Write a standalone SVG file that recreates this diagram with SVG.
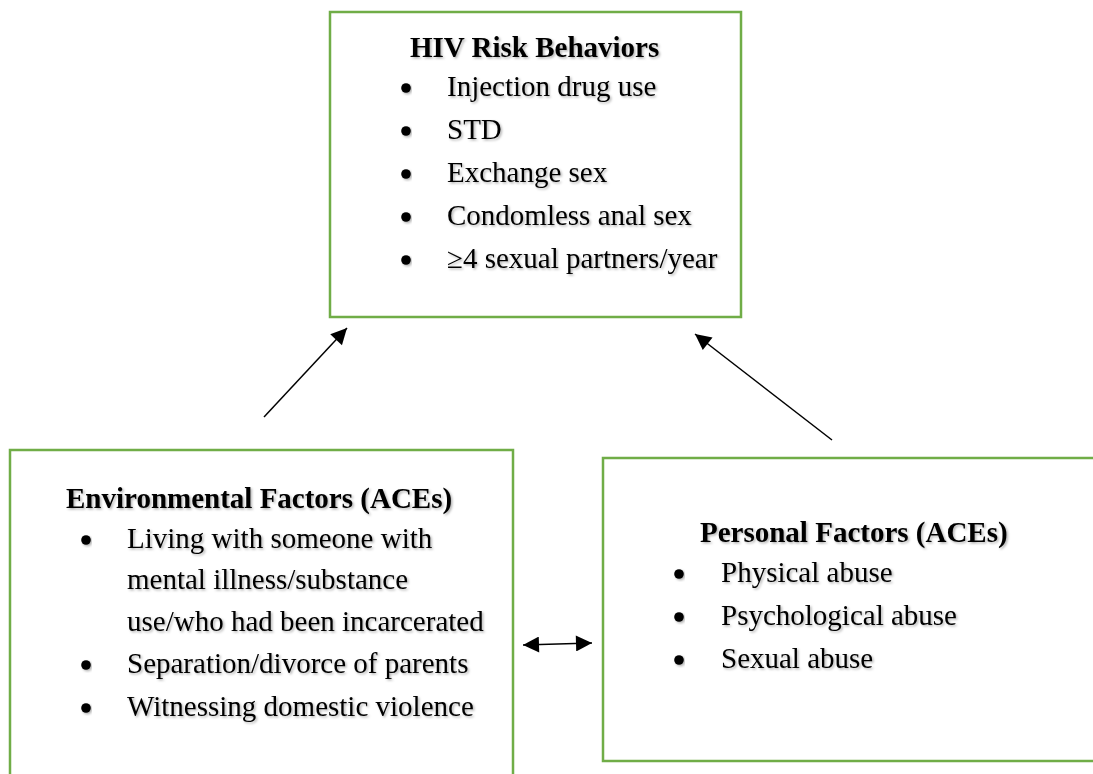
<svg xmlns="http://www.w3.org/2000/svg" width="1093" height="774" viewBox="0 0 1093 774">
<defs>
<style>
.box{fill:#fff;stroke:#70AD47;stroke-width:2.5}
.t{font-family:"Liberation Serif","Times New Roman",serif;font-size:29px;fill:#000;filter:url(#sh)}
.b{font-weight:bold}
.dot{fill:#000;filter:url(#sh)}
.conn{stroke:#000;stroke-width:1.5;fill:none}
</style>
<filter id="sh" x="-5%" y="-20%" width="110%" height="150%">
<feDropShadow dx="1.5" dy="1.5" stdDeviation="1" flood-color="#000" flood-opacity="0.3"/>
</filter>
<marker id="ah" viewBox="0 0 10 10" refX="10" refY="5" markerWidth="18" markerHeight="16" markerUnits="userSpaceOnUse" orient="auto-start-reverse">
<path d="M0,0 L10,5 L0,10 z" fill="#000"/>
</marker>
</defs>
<rect width="1093" height="774" fill="#fff"/>
<g id="hiv-risk-behaviors">
<rect class="box" x="330" y="12" width="411" height="305"/>
<text class="t b" x="410" y="57">HIV Risk Behaviors</text>
<circle class="dot" cx="406" cy="88" r="4.8"/>
<text class="t" x="447" y="96">Injection drug use</text>
<circle class="dot" cx="406" cy="131" r="4.8"/>
<text class="t" x="447" y="139">STD</text>
<circle class="dot" cx="406" cy="174" r="4.8"/>
<text class="t" x="447" y="182">Exchange sex</text>
<circle class="dot" cx="406" cy="217" r="4.8"/>
<text class="t" x="447" y="225">Condomless anal sex</text>
<circle class="dot" cx="406" cy="260" r="4.8"/>
<text class="t" x="447" y="268">≥4 sexual partners/year</text>
</g>
<g id="environmental-factors">
<rect class="box" x="10" y="450" width="503" height="400"/>
<text class="t b" x="66" y="508">Environmental Factors (ACEs)</text>
<circle class="dot" cx="86" cy="540" r="4.8"/>
<text class="t" x="127" y="548">Living with someone with</text>
<text class="t" x="127" y="589">mental illness/substance</text>
<text class="t" x="127" y="631">use/who had been incarcerated</text>
<circle class="dot" cx="86" cy="665" r="4.8"/>
<text class="t" x="127" y="673">Separation/divorce of parents</text>
<circle class="dot" cx="86" cy="708" r="4.8"/>
<text class="t" x="127" y="716">Witnessing domestic violence</text>
</g>
<g id="personal-factors">
<rect class="box" x="603" y="458" width="600" height="303"/>
<text class="t b" x="700" y="542">Personal Factors (ACEs)</text>
<circle class="dot" cx="679" cy="574" r="4.8"/>
<text class="t" x="721" y="582">Physical abuse</text>
<circle class="dot" cx="679" cy="617" r="4.8"/>
<text class="t" x="721" y="625">Psychological abuse</text>
<circle class="dot" cx="679" cy="660" r="4.8"/>
<text class="t" x="721" y="668">Sexual abuse</text>
</g>
<g id="connectors">
<line class="conn" x1="264" y1="417" x2="347" y2="328" marker-end="url(#ah)"/>
<line class="conn" x1="832" y1="440" x2="695" y2="334" marker-end="url(#ah)"/>
<line class="conn" x1="523" y1="645" x2="592" y2="643" marker-start="url(#ah)" marker-end="url(#ah)"/>
</g>
</svg>
